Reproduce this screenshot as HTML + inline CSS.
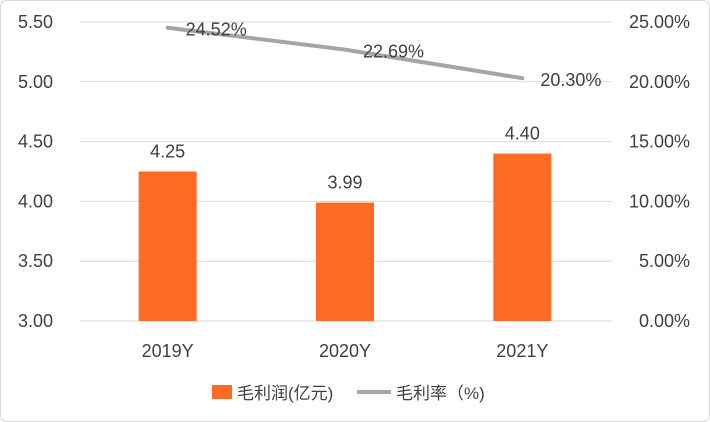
<!DOCTYPE html>
<html><head><meta charset="utf-8"><style>
html,body{margin:0;padding:0;background:#fff;}
#wrap{width:710px;height:422px;position:relative;overflow:hidden;}
svg text{font-family:"Liberation Sans","Noto Sans CJK SC",sans-serif;fill:#404040;}
</style></head><body>
<div id="wrap">
<svg id="chart" width="710" height="422">
<rect x="0.5" y="0.5" width="709" height="421" rx="6" fill="#fff" stroke="#d9d9d9"/>
</svg>
</div>
<script>
const categories = ["2019Y","2020Y","2021Y"];
const profitValues = [4.25,3.99,4.40];
const marginValues = [24.52,22.69,20.30];
const leftTicks = [3.00,3.50,4.00,4.50,5.00,5.50];
const rightTicks = [0,5,10,15,20,25];

const svg = document.getElementById('chart');
const NS = 'http://www.w3.org/2000/svg';
const plotL = 80, plotR = 612, yBot = 321, yTop = 22;
const yL = v => yBot - (v - 3) / 2.5 * (yBot - yTop);
const yR = v => yBot - v / 25 * (yBot - yTop);
const band = (plotR - plotL) / categories.length;
const xC = i => plotL + band * (i + 0.5) - 1;
function mk(tag, attrs, text){
  const e = document.createElementNS(NS, tag);
  for (const k in attrs) e.setAttribute(k, attrs[k]);
  if (text !== undefined) e.textContent = text;
  svg.appendChild(e);
  return e;
}
leftTicks.forEach((t, i) => {
  const g = mk('line', {x1: plotL, x2: plotR, y1: yL(t), y2: yL(t), stroke: '#d9d9d9', 'stroke-width': 1});
  
  
  const l = mk('text', {x: 53, y: yL(t) + 6, 'text-anchor': 'end', 'font-size': 18}, t.toFixed(2));
  
  
});
rightTicks.forEach(t => {
  const l = mk('text', {x: 690, y: yR(t) + 6, 'text-anchor': 'end', 'font-size': 18}, t.toFixed(2) + '%');
  
  
});
categories.forEach((c, i) => {
  const b = mk('rect', {x: xC(i) - 29, y: yL(profitValues[i]), width: 58, height: yBot - yL(profitValues[i]), fill: '#ff6b23'});
  
  
  const v = mk('text', {x: xC(i), y: yL(profitValues[i]) - 14, 'text-anchor': 'middle', 'font-size': 18}, profitValues[i].toFixed(2));
  
  
  const cl = mk('text', {x: xC(i), y: 357, 'text-anchor': 'middle', 'font-size': 18}, c);
  
  
});
const pts = marginValues.map((v, i) => xC(i) + ',' + yR(v)).join(' ');
const line = mk('polyline', {points: pts, fill: 'none', stroke: '#a5a5a5', 'stroke-width': 4, 'stroke-linecap': 'round'});


marginValues.forEach((v, i) => {
  const t = mk('text', {x: xC(i) + 18, y: yR(v) + 8, 'font-size': 18}, v.toFixed(2) + '%');
  
  
});
const lb = mk('rect', {x: 212, y: 385, width: 20, height: 14, fill: '#ff6b23'});


const lt1 = mk('text', {x: 237, y: 399, 'font-size': 17}, '毛利润(亿元)');


const ll = mk('line', {x1: 357, x2: 391, y1: 392, y2: 392, stroke: '#a5a5a5', 'stroke-width': 4});


const lt2 = mk('text', {x: 396, y: 399, 'font-size': 17}, '毛利率（%)');


</script>
</body></html>
